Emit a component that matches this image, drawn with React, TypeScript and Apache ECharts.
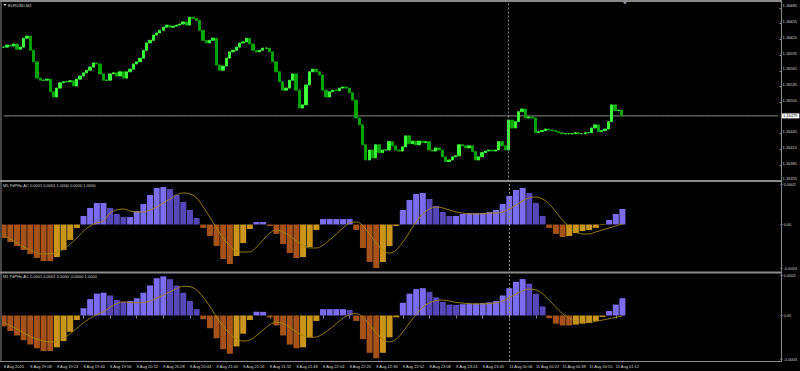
import React, { useEffect, useRef } from 'react';
import * as echarts from 'echarts';

const symbolTitle = 'EURUSD,M1';
const panel1Title = 'M5 PdPHa AC 0.0001 0.0001 1.0000 0.0000 1.0000';
const panel2Title = 'M1 PdPHa AC 0.0001 0.0001 3.0000 -0.0000 1.0000';

const timeLabels = [
  '8 Aug 2025', '8 Aug 19:08', '8 Aug 19:24', '8 Aug 19:40', '8 Aug 19:56', '8 Aug 20:12',
  '8 Aug 20:28', '8 Aug 20:44', '8 Aug 21:00', '8 Aug 21:16', '8 Aug 21:32', '8 Aug 21:48',
  '8 Aug 22:04', '8 Aug 22:20', '8 Aug 22:36', '8 Aug 22:52', '8 Aug 23:08', '8 Aug 23:24',
  '8 Aug 23:40', '11 Aug 00:06', '11 Aug 00:22', '11 Aug 00:38', '11 Aug 00:55', '11 Aug 01:12',
];

const priceTicks = [
  1.16355, 1.16385, 1.16415, 1.16445, 1.16505, 1.16535, 1.16565, 1.16595, 1.16625, 1.16655, 1.16685,
];

const indTickValues = [0.00022, 0, -0.00024];
const indTickLabels = ['0.0002', '0.00', '-0.0003'];

// closing price of every bar (2-minute steps on screen)
const closes = [
  1.16610, 1.16614, 1.16612, 1.16616, 1.16606, 1.16610, 1.16627, 1.16631, 1.16604, 1.16582,
  1.16551, 1.16547, 1.16547, 1.16549, 1.16525, 1.16515, 1.16532, 1.16542, 1.16544, 1.16544,
  1.16546, 1.16536, 1.16549, 1.16555, 1.16561, 1.16566, 1.16572, 1.16580, 1.16578, 1.16559,
  1.16547, 1.16547, 1.16559, 1.16561, 1.16555, 1.16563, 1.16551, 1.16563, 1.16568, 1.16578,
  1.16582, 1.16589, 1.16604, 1.16618, 1.16623, 1.16633, 1.16637, 1.16642, 1.16648, 1.16652,
  1.16648, 1.16650, 1.16652, 1.16654, 1.16658, 1.16652, 1.16667, 1.16665, 1.16661, 1.16642,
  1.16623, 1.16618, 1.16623, 1.16627, 1.16576, 1.16566, 1.16574, 1.16589, 1.16601, 1.16604,
  1.16610, 1.16618, 1.16620, 1.16627, 1.16616, 1.16604, 1.16601, 1.16604, 1.16608, 1.16608,
  1.16601, 1.16582, 1.16563, 1.16544, 1.16528, 1.16532, 1.16547, 1.16559, 1.16528, 1.16494,
  1.16500, 1.16538, 1.16563, 1.16568, 1.16563, 1.16557, 1.16528, 1.16515, 1.16525, 1.16528,
  1.16527, 1.16532, 1.16534, 1.16532, 1.16523, 1.16509, 1.16475, 1.16462, 1.16424, 1.16395,
  1.16414, 1.16399, 1.16424, 1.16409, 1.16414, 1.16414, 1.16430, 1.16422, 1.16414, 1.16412,
  1.16420, 1.16441, 1.16426, 1.16431, 1.16424, 1.16431, 1.16428, 1.16430, 1.16414, 1.16412,
  1.16418, 1.16414, 1.16401, 1.16392, 1.16395, 1.16401, 1.16403, 1.16424, 1.16422, 1.16418,
  1.16422, 1.16411, 1.16395, 1.16401, 1.16409, 1.16412, 1.16414, 1.16412, 1.16414, 1.16430,
  1.16422, 1.16414, 1.16471, 1.16456, 1.16468, 1.16487, 1.16492, 1.16475, 1.16477, 1.16475,
  1.16447, 1.16449, 1.16451, 1.16454, 1.16452, 1.16451, 1.16449, 1.16447, 1.16445, 1.16445,
  1.16445, 1.16445, 1.16447, 1.16445, 1.16445, 1.16447, 1.16447, 1.16456, 1.16462, 1.16449,
  1.16451, 1.16454, 1.16468, 1.16500, 1.16489, 1.16490, 1.16479,
];

// indicator values, one per two price bars
const ac1 = [
  -74e-6, -96e-6, -118e-6, -140e-6, -162e-6, -184e-6, -201e-6, -201e-6, -179e-6, -140e-6, -85e-6, -19e-6,
  47e-6, 91e-6, 118e-6, 118e-6, 91e-6, 58e-6, 41e-6, 41e-6, 74e-6, 113e-6, 162e-6, 201e-6,
  206e-6, 195e-6, 162e-6, 124e-6, 80e-6, 36e-6,
  -19e-6, -63e-6, -118e-6, -190e-6, -217e-6, -173e-6, -102e-6, -25e-6,
  14e-6, 14e-6,
  -8e-6, -52e-6, -107e-6, -157e-6, -184e-6, -179e-6, -124e-6, -30e-6,
  30e-6, 30e-6, 30e-6, 30e-6, 30e-6,
  -30e-6, -129e-6, -206e-6, -239e-6, -206e-6, -118e-6, -8e-6,
  80e-6, 135e-6, 168e-6, 173e-6, 140e-6, 102e-6, 69e-6, 47e-6, 47e-6, 58e-6, 63e-6, 63e-6, 63e-6, 69e-6, 80e-6,
  113e-6, 157e-6, 190e-6, 201e-6, 173e-6, 118e-6, 47e-6,
  -19e-6, -52e-6, -69e-6, -63e-6, -47e-6, -36e-6, -30e-6, -19e-6,
  -3e-6, 25e-6, 58e-6, 85e-6,
];
const sig1 = [
  -63e-6, -80e-6, -102e-6, -124e-6, -140e-6, -157e-6, -162e-6, -162e-6, -151e-6, -135e-6, -107e-6, -74e-6,
  -36e-6, -8e-6, 8e-6, 19e-6, 63e-6, 80e-6, 85e-6, 74e-6, 69e-6, 69e-6, 80e-6, 96e-6,
  118e-6, 140e-6, 162e-6, 173e-6, 168e-6, 146e-6,
  96e-6, 41e-6, -19e-6, -74e-6, -118e-6, -146e-6, -151e-6, -151e-6,
  -124e-6, -85e-6, -47e-6, -30e-6, -41e-6, -63e-6, -91e-6, -113e-6, -129e-6, -129e-6,
  -113e-6, -85e-6, -52e-6, -19e-6, 8e-6,
  14e-6, -8e-6, -52e-6, -102e-6, -140e-6, -157e-6, -140e-6,
  -96e-6, -41e-6, 14e-6, 58e-6, 85e-6, 96e-6, 91e-6, 80e-6, 69e-6, 63e-6, 58e-6, 58e-6, 58e-6, 63e-6, 63e-6,
  69e-6, 85e-6, 107e-6, 129e-6, 146e-6, 151e-6, 140e-6,
  113e-6, 69e-6, 25e-6, -14e-6, -41e-6, -52e-6, -52e-6, -41e-6,
  -30e-6, -19e-6, -8e-6, 3e-6,
];
const ac2 = [
  -60e-6, -85e-6, -110e-6, -135e-6, -160e-6, -180e-6, -195e-6, -195e-6, -175e-6, -140e-6, -90e-6, -25e-6,
  40e-6, 90e-6, 120e-6, 125e-6,
  110e-6, 85e-6, 75e-6, 80e-6, 95e-6, 125e-6,
  165e-6, 205e-6, 215e-6, 200e-6, 165e-6, 125e-6, 80e-6,
  35e-6,
  -20e-6, -70e-6, -125e-6, -185e-6, -210e-6, -170e-6, -100e-6, -25e-6,
  20e-6, 20e-6,
  -10e-6, -55e-6, -110e-6, -160e-6, -180e-6, -175e-6, -120e-6, -30e-6,
  35e-6, 35e-6, 35e-6, 35e-6, 30e-6,
  -30e-6, -130e-6, -205e-6, -235e-6, -205e-6, -120e-6, -10e-6,
  70e-6, 120e-6, 145e-6, 150e-6, 130e-6, 100e-6, 75e-6, 60e-6,
  58e-6, 62e-6, 66e-6, 66e-6, 68e-6, 72e-6, 80e-6,
  110e-6, 150e-6, 185e-6, 200e-6, 175e-6, 120e-6,
  50e-6, -15e-6, -45e-6, -55e-6, -55e-6, -50e-6, -45e-6, -40e-6, -30e-6,
  -8e-6, 25e-6, 60e-6, 95e-6,
];
const sig2 = [
  -40e-6, -55e-6, -75e-6, -95e-6, -115e-6, -130e-6, -140e-6, -145e-6, -140e-6, -125e-6, -100e-6, -70e-6,
  -40e-6, -15e-6, 5e-6, 20e-6,
  45e-6, 65e-6, 75e-6, 72e-6, 70e-6, 72e-6,
  80e-6, 95e-6, 112e-6, 130e-6, 148e-6, 160e-6, 158e-6,
  140e-6, 100e-6, 50e-6, -10e-6, -60e-6, -100e-6, -130e-6, -140e-6, -135e-6,
  -110e-6, -80e-6, -50e-6, -38e-6, -45e-6, -65e-6, -90e-6, -110e-6, -120e-6, -118e-6,
  -100e-6, -75e-6, -45e-6, -15e-6, 5e-6,
  10e-6, -10e-6, -50e-6, -95e-6, -130e-6, -145e-6, -130e-6,
  -90e-6, -40e-6, 5e-6, 45e-6, 70e-6, 82e-6, 85e-6, 80e-6,
  72e-6, 68e-6, 65e-6, 64e-6, 64e-6, 66e-6, 70e-6,
  80e-6, 98e-6, 118e-6, 135e-6, 145e-6, 140e-6,
  120e-6, 85e-6, 45e-6, 10e-6, -15e-6, -30e-6, -38e-6, -38e-6, -32e-6,
  -25e-6, -18e-6, -10e-6, -3e-6,
];

const CATEGORY_COUNT = 234;
const BARS_PER_LABEL = 8;
const SEPARATOR_BAR = 152;

const GRAY = '#8a8a8a';
const TEXT = '#d4d4d4';
const UP = '#3cff3c';
const DOWN = '#00a800';
const POS_UP = '#7c6cf0';
const POS_DOWN = '#5747b8';
const NEG_DOWN = '#a4521a';
const NEG_UP = '#c9941c';
const SIG = '#a8880e';
const FONT = 'Liberation Sans';

export default function App() {
  const ref = useRef<HTMLDivElement>(null);
  useEffect(() => {
    const chart = echarts.init(ref.current!, null, { renderer: 'svg' });
    const cats = Array.from({ length: CATEGORY_COUNT }, (_, i) => String(i));
    const candles = closes.map((c, i) => {
      const o = i === 0 ? c : closes[i - 1];
      return [o, c, Math.min(o, c), Math.max(o, c)];
    });
    const lastClose = closes[closes.length - 1];
    const spread = (arr: any[]) => {
      const out: any[] = new Array(CATEGORY_COUNT).fill('-');
      arr.forEach((v, j) => { out[j * 2] = v; });
      return out;
    };
    const hist = (arr: number[]) =>
      spread(arr.map((v, j) => {
        const prev = j === 0 ? v : arr[j - 1];
        const color = v >= 0 ? (v >= prev ? POS_UP : POS_DOWN) : (v <= prev ? NEG_DOWN : NEG_UP);
        return { value: v, itemStyle: { color } };
      }));
    const labelInterval = (idx: number) => idx % BARS_PER_LABEL === 0 && idx / BARS_PER_LABEL < timeLabels.length;
    const sepLine = {
      symbol: 'none', silent: true, label: { show: false },
      lineStyle: { color: GRAY, type: [2, 2], width: 1 },
      data: [{ xAxis: SEPARATOR_BAR }],
    };
    const xBase = (gridIndex: number, show: boolean) => ({
      type: 'category', gridIndex, data: cats, boundaryGap: true,
      axisLine: { show: false },
      axisTick: show ? { show: true, interval: labelInterval, alignWithLabel: true, length: 3, lineStyle: { color: GRAY } } : { show: false },
      axisLabel: show ? {
        show: true, interval: labelInterval, align: 'left', margin: 3,
        formatter: (_v: string, idx: number) => timeLabels[idx / BARS_PER_LABEL] ?? '',
        color: TEXT, fontSize: 4, fontFamily: FONT,
      } : { show: false },
      splitLine: { show: false },
    });
    const indY = (gridIndex: number) => ({
      type: 'value', gridIndex, position: 'right', min: -0.00025, max: 0.000228,
      splitLine: { show: false }, axisLine: { show: false },
      axisTick: { show: true, customValues: indTickValues, length: 2, lineStyle: { color: GRAY } },
      axisLabel: {
        customValues: indTickValues, margin: 3, color: TEXT, fontSize: 4, fontFamily: FONT,
        formatter: (v: number) => (v > 0 ? indTickLabels[0] : v < 0 ? indTickLabels[2] : indTickLabels[1]),
      },
    });
    const lineSeries = (idx: number, arr: number[]) => ({
      type: 'line', xAxisIndex: idx, yAxisIndex: idx, data: spread(arr), connectNulls: true,
      symbol: 'none', smooth: 0.4, lineStyle: { color: SIG, width: 0.9 }, z: 5,
    });
    const option: any = {
      animation: false,
      backgroundColor: '#000',
      grid: [
        { left: 2, right: 19, top: 2, height: 179.5 },
        { left: 2, right: 19, top: 183, height: 87 },
        { left: 2, right: 19, top: 274, height: 87 },
      ],
      xAxis: [xBase(0, false), xBase(1, false), xBase(2, true)],
      yAxis: [
        {
          type: 'value', gridIndex: 0, position: 'right', min: 1.16354, max: 1.16696,
          splitLine: { show: false }, axisLine: { show: false },
          axisTick: { show: true, customValues: priceTicks, length: 2, lineStyle: { color: GRAY } },
          axisLabel: {
            customValues: priceTicks, margin: 3, color: TEXT, fontSize: 4, fontFamily: FONT,
            verticalAlign: 'bottom', formatter: (v: number) => v.toFixed(5),
          },
        },
        indY(1),
        indY(2),
      ],
      series: [
        {
          // current bid level across the whole price window
          type: 'line', xAxisIndex: 0, yAxisIndex: 0, data: cats.map(() => lastClose), symbol: 'none',
          lineStyle: { color: GRAY, width: 1 }, silent: true, z: 1,
          endLabel: {
            show: true, distance: 3, formatter: () => lastClose.toFixed(5),
            backgroundColor: '#ffffff', color: '#000000', fontSize: 4, fontFamily: FONT, padding: [0.5, 2],
          },
        },
        {
          type: 'candlestick', xAxisIndex: 0, yAxisIndex: 0, data: candles, barWidth: 2.8, z: 3,
          itemStyle: { color: UP, color0: DOWN, borderColor: UP, borderColor0: DOWN, borderWidth: 0.9 },
          markLine: sepLine,
        },
        {
          type: 'bar', xAxisIndex: 1, yAxisIndex: 1, data: hist(ac1), barWidth: 6, markLine: sepLine,
        },
        lineSeries(1, sig1),
        {
          type: 'bar', xAxisIndex: 2, yAxisIndex: 2, data: hist(ac2), barWidth: 6, markLine: sepLine,
        },
        lineSeries(2, sig2),
      ],
      graphic: [
        { type: 'rect', z: 100, shape: { x: 0, y: 0, width: 782, height: 2 }, style: { fill: GRAY } },
        { type: 'rect', z: 100, shape: { x: 0, y: 180, width: 782, height: 2 }, style: { fill: GRAY } },
        { type: 'rect', z: 100, shape: { x: 0, y: 271.5, width: 782, height: 2 }, style: { fill: GRAY } },
        { type: 'line', z: 100, shape: { x1: 1, y1: 0, x2: 1, y2: 361.5 }, style: { stroke: GRAY, lineWidth: 1 } },
        { type: 'line', z: 100, shape: { x1: 781.5, y1: 0, x2: 781.5, y2: 362 }, style: { stroke: GRAY, lineWidth: 1 } },
        { type: 'line', z: 100, shape: { x1: 0, y1: 361.5, x2: 782, y2: 361.5 }, style: { stroke: GRAY, lineWidth: 1 } },
        { type: 'polygon', z: 100, shape: { points: [[3.5, 4], [6.5, 4], [5, 6.2]] }, style: { fill: TEXT } },
        { type: 'polygon', z: 100, shape: { points: [[623, 2], [627, 2], [625, 4.5]] }, style: { fill: '#8898a8' } },
        { type: 'text', z: 100, style: { text: symbolTitle, x: 8, y: 5, fill: TEXT, fontSize: 4, fontFamily: FONT, verticalAlign: 'middle' } },
        { type: 'text', z: 100, style: { text: panel1Title, x: 3, y: 185.5, fill: TEXT, fontSize: 4, fontFamily: FONT, verticalAlign: 'middle' } },
        { type: 'text', z: 100, style: { text: panel2Title, x: 3, y: 276.5, fill: TEXT, fontSize: 4, fontFamily: FONT, verticalAlign: 'middle' } },
      ],
    };
    chart.setOption(option);
    return () => chart.dispose();
  }, []);
  return (
    <div
      ref={ref}
      style={{ position: 'fixed', left: 0, top: 0, width: 800, height: 371, background: '#000' }}
    />
  );
}
